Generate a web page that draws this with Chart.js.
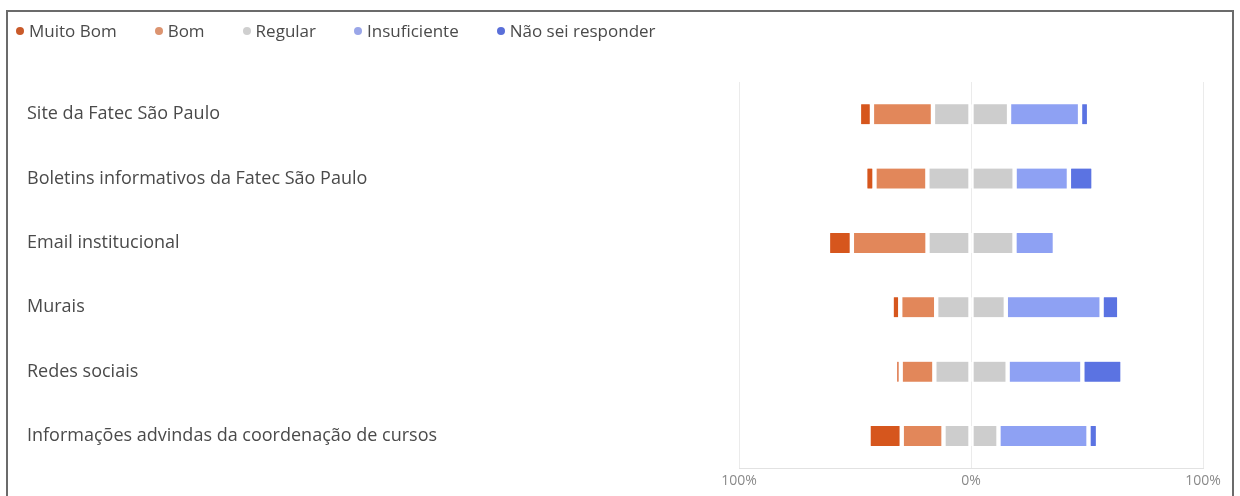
<!DOCTYPE html>
<html>
<head>
<meta charset="utf-8">
<script src="https://cdn.jsdelivr.net/npm/chart.js@4.4.1/dist/chart.umd.min.js"></script>
<style>
  html, body { margin: 0; padding: 0; background: #fff; }
  #wrap { position: relative; width: 1240px; height: 496px; overflow: hidden; background: #fff; }
  #frame { position: absolute; left: 6px; top: 10px; width: 1228px; height: 500px; border: 2px solid #6b6b6b; box-sizing: border-box; pointer-events: none; }
  #legend { position: absolute; left: 16px; top: 19px; display: flex; align-items: center; font-family: "Open Sans", "Noto Sans", sans-serif; font-size: 17px; color: #4a4a4a; }
  .item { display: flex; align-items: center; margin-right: 38px; }
  .dot { width: 8px; height: 8px; border-radius: 50%; margin-right: 5px; }
  canvas { position: absolute; left: 0; top: 0; }
</style>
</head>
<body>
<div id="wrap">
  <canvas id="c" width="1240" height="496"></canvas>
  <div id="legend"></div>
  <div id="frame"></div>
</div>
<script>
const categories = [
  "Site da Fatec São Paulo",
  "Boletins informativos da Fatec São Paulo",
  "Email institucional",
  "Murais",
  "Redes sociais",
  "Informações advindas da coordenação de cursos"
];
const seriesNames = ["Muito Bom", "Bom", "Regular", "Insuficiente", "Não sei responder"];
const muitoBom     = [5.6, 4.0, 10.3, 3.7, 2.4, 14.3];
const bom          = [26.3, 22.8, 32.6, 15.5, 14.5, 18.0];
const regular      = [32.8, 37.6, 37.5, 30.0, 31.6, 23.7];
const insuficiente = [30.6, 23.4, 17.4, 41.3, 32.2, 38.8];
const naoSei       = [3.9, 10.6, 0, 7.6, 17.3, 4.1];
const xTicks = [-100, 0, 100];

const barColors    = ["#d6561d", "#e2875a", "#cdcdcd", "#8ea1f3", "#5b73e2"];
const legendColors = ["#c95a2a", "#dc9470", "#cfcfcf", "#9aa6e8", "#5a6fd9"];

// legend
const lg = document.getElementById('legend');
seriesNames.forEach((n, i) => {
  const it = document.createElement('div'); it.className = 'item';
  const d = document.createElement('span'); d.className = 'dot'; d.style.background = legendColors[i];
  const t = document.createElement('span'); t.textContent = n;
  it.appendChild(d); it.appendChild(t); lg.appendChild(it);
});

const nz = v => (v === 0 ? null : v);
const neg = a => a.map(v => nz(-v));
const pos = a => a.map(v => nz(v));
const half = a => a.map(v => v / 2);
const common = {
  borderColor: '#ffffff',
  borderWidth: {left: 2.5, right: 2.5, top: 0, bottom: 0},
  borderSkipped: false,
  borderRadius: 3,
  barThickness: 20,
  stack: 's'
};
// stacking order: nearest zero first
const datasets = [
  Object.assign({label: "Regular", data: neg(half(regular)), backgroundColor: barColors[2]}, common),
  Object.assign({label: "Regular ", data: pos(half(regular)), backgroundColor: barColors[2]}, common),
  Object.assign({label: "Bom", data: neg(bom), backgroundColor: barColors[1]}, common),
  Object.assign({label: "Insuficiente", data: pos(insuficiente), backgroundColor: barColors[3]}, common),
  Object.assign({label: "Muito Bom", data: neg(muitoBom), backgroundColor: barColors[0]}, common),
  Object.assign({label: "Não sei responder", data: pos(naoSei), backgroundColor: barColors[4]}, common)
];

new Chart(document.getElementById('c'), {
  type: 'bar',
  data: { labels: categories, datasets },
  options: {
    indexAxis: 'y',
    responsive: false,
    animation: false,
    layout: { padding: { left: 27, top: 82, right: 37, bottom: 3 } },
    plugins: { legend: { display: false }, tooltip: { enabled: false } },
    scales: {
      x: {
        stacked: true,
        min: -100, max: 100,
        afterBuildTicks: s => { s.ticks = xTicks.map(v => ({value: v})); },
        ticks: {
          callback: v => Math.abs(v) + '%',
          color: '#8a8a8a',
          font: { family: '"Open Sans", "Noto Sans", sans-serif', size: 14 },
          padding: 4,
          maxRotation: 0
        },
        grid: { color: '#ebebeb', drawTicks: false },
        border: { color: '#e2e2e2' }
      },
      y: {
        stacked: true,
        afterFit: s => { s.width = 739 - 27; },
        ticks: {
          crossAlign: 'far',
          color: '#4a4a4a',
          font: { family: '"Open Sans", "Noto Sans", sans-serif', size: 18 }
        },
        grid: { display: false },
        border: { display: false }
      }
    }
  }
});
</script>
</body>
</html>
